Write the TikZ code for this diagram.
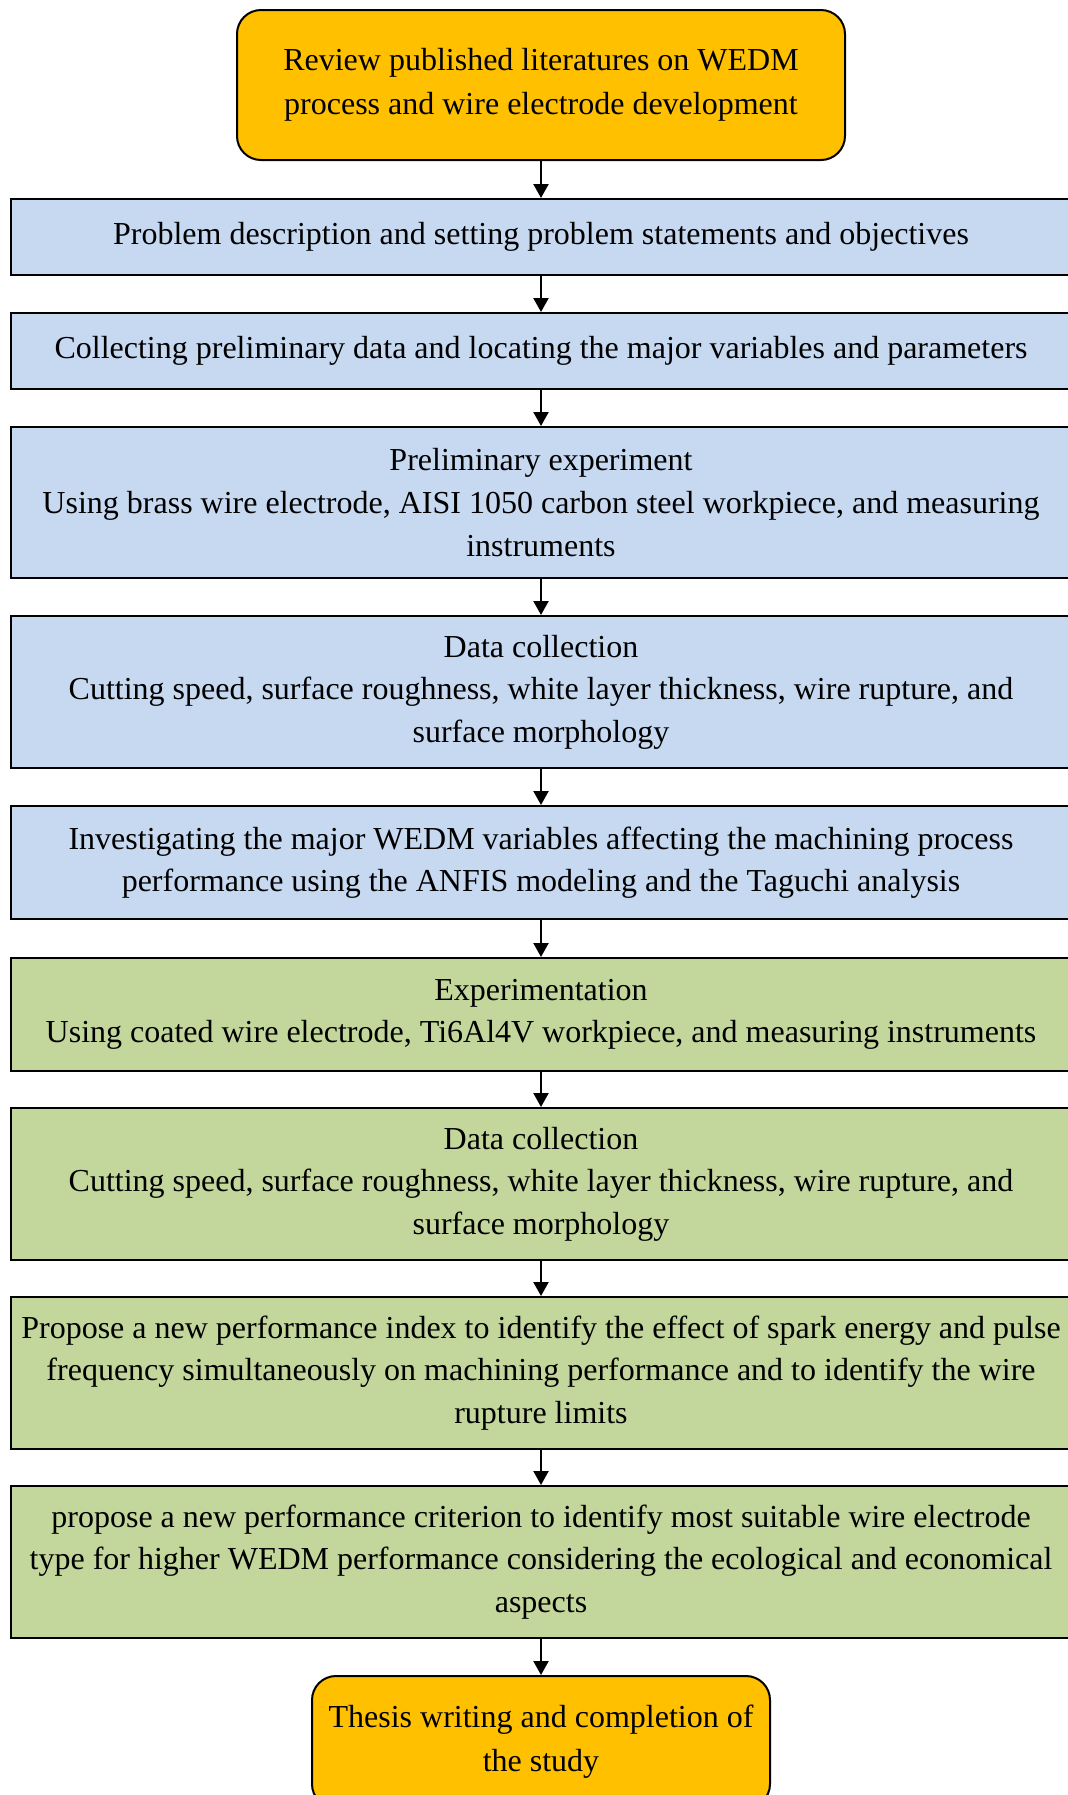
\documentclass[tikz,border=0pt]{standalone}
\usepackage{fontspec}
\setmainfont{Liberation Serif}
\usepackage{xcolor}
\usepackage{tikz}
\usetikzlibrary{arrows.meta, positioning}
\definecolor{goldbox}{HTML}{FFC000}
\definecolor{bluebox}{HTML}{C6D9F1}
\definecolor{greenbox}{HTML}{C3D69B}

\begin{document}
\begin{tikzpicture}[
  ebox/.style={rectangle, rounded corners=12pt, draw, line width=1pt,
              fill=goldbox, align=center, inner sep=4pt, font=\fontsize{16}{22}\selectfont},
  bbox/.style={rectangle, draw, line width=1pt,
              fill=bluebox, align=center, minimum width=530pt, inner xsep=2pt, inner ysep=3pt, font=\fontsize{16}{21.3}\selectfont},
  gbox/.style={bbox, fill=greenbox},
  arr/.style={-{Triangle[length=7pt,width=7.5pt]}, line width=1.1pt}
]
\useasboundingbox (0,0) rectangle (534pt,-897.5pt);
\node[ebox, minimum width=304pt, minimum height=75pt] (rev) at (270.5pt,-42.5pt) {Review published literatures on WEDM\\process and wire electrode development};
\node[bbox, minimum height=38pt, below=18.5pt of rev] (prob) {Problem description and setting problem statements and objectives};
\node[bbox, minimum height=38pt, below=18pt of prob] (coll) {Collecting preliminary data and locating the major variables and parameters};
\node[bbox, minimum height=75.5pt, below=18pt of coll] (prelim) {Preliminary experiment\\Using brass wire electrode, AISI 1050 carbon steel workpiece, and measuring\\instruments};
\node[bbox, minimum height=76pt, below=18pt of prelim] (data1) {Data collection\\Cutting speed, surface roughness, white layer thickness, wire rupture, and\\surface morphology};
\node[bbox, minimum height=56.5pt, below=18pt of data1] (invest) {Investigating the major WEDM variables affecting the machining process\\performance using the ANFIS modeling and the Taguchi analysis};
\node[gbox, minimum height=56.5pt, below=18.5pt of invest] (exper) {Experimentation\\Using coated wire electrode, Ti6Al4V workpiece, and measuring instruments};
\node[gbox, minimum height=76pt, below=17.5pt of exper] (data2) {Data collection\\Cutting speed, surface roughness, white layer thickness, wire rupture, and\\surface morphology};
\node[gbox, minimum height=76pt, below=17.5pt of data2] (index) {Propose a new performance index to identify the effect of spark energy and pulse\\frequency simultaneously on machining performance and to identify the wire\\rupture limits};
\node[gbox, minimum height=76pt, below=17.5pt of index] (crit) {propose a new performance criterion to identify most suitable wire electrode\\type for higher WEDM performance considering the ecological and economical\\aspects};
\node[ebox, minimum width=229pt, minimum height=66pt, below=18pt of crit] (thesis) {Thesis writing and completion of\\the study};
\draw[arr] (rev.south) -- (prob.north);
\draw[arr] (prob.south) -- (coll.north);
\draw[arr] (coll.south) -- (prelim.north);
\draw[arr] (prelim.south) -- (data1.north);
\draw[arr] (data1.south) -- (invest.north);
\draw[arr] (invest.south) -- (exper.north);
\draw[arr] (exper.south) -- (data2.north);
\draw[arr] (data2.south) -- (index.north);
\draw[arr] (index.south) -- (crit.north);
\draw[arr] (crit.south) -- (thesis.north);
\end{tikzpicture}
\end{document}
